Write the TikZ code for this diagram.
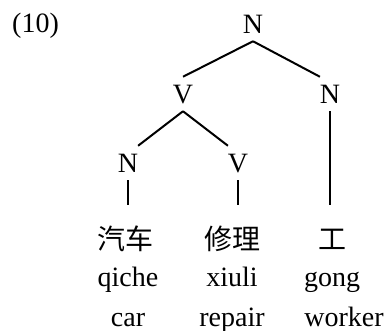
\documentclass[tikz,border=0pt]{standalone}
\usepackage{fontspec}
\setmainfont{Liberation Serif}
\newfontfamily\cjk{Noto Sans CJK SC}
\usetikzlibrary{positioning}

\begin{document}
\begin{tikzpicture}[
    x=1pt, y=-1pt,
    font=\fontsize{28}{34}\selectfont,
    node distance=70pt,
    on grid,
    cat/.style={inner sep=0pt, text height=18.5pt, text depth=0pt, outer xsep=0pt, outer ysep=8pt},
    hanzi/.style={anchor=base, inner sep=0pt, text height=24pt, text depth=4pt, outer xsep=0pt, outer ysep=20pt, font=\fontsize{28}{34}\cjk},
    word/.style={anchor=base, inner sep=0pt},
    branch/.style={line width=2pt}
]
\useasboundingbox (0,0) rectangle (390,331);

% --- example number ---
\node[word, anchor=base west] (exnum) at (12,33) {(10)};

% --- category nodes ---
\node[cat] (root) at (253,24) {N};
\node[cat, below left=70pt and 70pt of root] (v1) {V};
\node[cat, below right=70pt and 77pt of root] (n2) {N};
\node[cat, below left=69pt and 55pt of v1] (n3) {N};
\node[cat, below right=69pt and 55pt of v1] (v2) {V};

% --- words: characters, pinyin, gloss ---
\node[hanzi] (w1) at (125,249) {汽车};
\node[hanzi] (w2) at (232.5,249) {修理};
\node[hanzi] (w3) at (332.5,249) {工};

\node[word] (p1) at (128,286) {qiche};
\node[word] (p2) at (232,286) {xiuli};
\node[word] (p3) at (332,286) {gong};

\node[word] (g1) at (128,326) {car};
\node[word] (g2) at (232,326) {repair};
\node[word] (g3) at (344,326) {worker};

% --- branches ---
\draw[branch] (root.south) -- (v1.north);
\draw[branch] (root.south) -- (n2.north west);
\draw[branch] (v1.south) -- (n3.north east);
\draw[branch] (v1.south) -- (v2.north west);

% unary branches down to the words
\draw[branch] (n3.south) -- (n3.south |- w1.north);
\draw[branch] (v2.south) -- (v2.south |- w2.north);
\draw[branch] (n2.south) -- (n2.south |- w3.north);

\end{tikzpicture}
\end{document}
